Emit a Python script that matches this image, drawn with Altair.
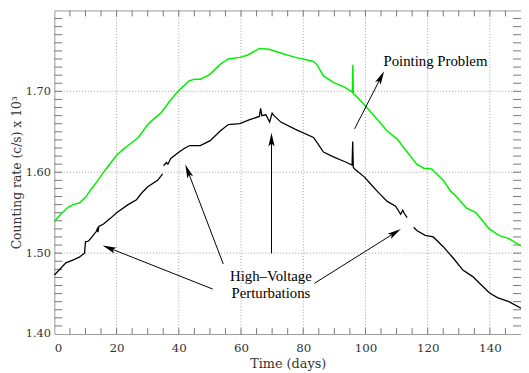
import math
import altair as alt
import pandas as pd

# ---------------- data ----------------
green_day = [0, 2, 4.5, 6, 8, 10, 12, 14, 16, 18.4, 20, 22, 24, 27, 30, 32, 34.2, 37.3, 40, 42,
             43.3, 45, 47, 50, 53.2, 55.9, 59.6, 62.2, 65.9, 69, 72.2, 77.5, 83.3, 84.4, 86.5,
             89.7, 93.4, 95.8, 95.95, 96.1, 96.8, 99.7, 103.9, 107, 110.2, 113.4, 116.5, 118.7,
             121.3, 125, 127.5, 129.2, 132.4, 135.5, 139.8, 142.9, 146.1, 150]
green_val = [1.539, 1.548, 1.557, 1.560, 1.562, 1.569, 1.580, 1.590, 1.601, 1.613, 1.621, 1.628,
             1.634, 1.643, 1.659, 1.666, 1.673, 1.689, 1.701, 1.708, 1.713, 1.715, 1.715, 1.721,
             1.733, 1.740, 1.742, 1.745, 1.753, 1.752, 1.748, 1.742, 1.737, 1.733, 1.719, 1.711,
             1.705, 1.699, 1.733, 1.697, 1.695, 1.683, 1.665, 1.651, 1.641, 1.625, 1.610, 1.605,
             1.604, 1.590, 1.576, 1.570, 1.556, 1.550, 1.530, 1.522, 1.518, 1.509]

black_day = [0, 2, 3.7, 6.3, 8, 9.7, 10.0, 11, 12.1, 13.5, 13.8, 14.0, 14.3, 15.8, 18, 20, 23.7,
             26.4, 28, 30, 33.2, 34.8,
             35.1, 36.0, 36.5, 37.4, 40.1, 42, 43.5, 46.9, 50.1, 53.3, 55.9, 59.6, 62.8, 65.9,
             66.3, 66.7, 68, 69.2, 70.0, 70.6, 72.8, 77.5, 83.3, 84.4, 86.5, 89.7, 93.4, 95.7,
             95.9, 96.1, 96.8, 99.7, 101.3, 103.9, 107, 109.7, 111.3, 112.0, 112.5, 113.4,
             115.5, 116.5, 119.2, 121.8, 125, 128.2, 131.3, 134.5, 136.6, 139.8, 142.4, 146.1, 150]
black_val = [1.473, 1.481, 1.488, 1.492, 1.495, 1.500, 1.514, 1.515, 1.520, 1.527, 1.530, 1.526,
             1.533, 1.536, 1.543, 1.550, 1.560, 1.566, 1.574, 1.582, 1.590, 1.598,
             1.608, 1.612, 1.610, 1.617, 1.625, 1.630, 1.633, 1.633, 1.639, 1.651, 1.659, 1.660,
             1.665, 1.669, 1.679, 1.670, 1.671, 1.662, 1.673, 1.670, 1.662, 1.653, 1.643, 1.637,
             1.625, 1.619, 1.613, 1.609, 1.638, 1.606, 1.603, 1.594, 1.587, 1.576, 1.564, 1.558,
             1.548, 1.553, 1.549, 1.544,
             1.532, 1.528, 1.522, 1.520, 1.508, 1.494, 1.479, 1.471, 1.463, 1.451, 1.445, 1.440,
             1.432]
black_seg = [1] * 22 + [2] * 40 + [3] * 13

x_labels = [0, 20, 40, 60, 80, 100, 120, 140]
y_labels = [1.40, 1.50, 1.60, 1.70]
grid_x = [20, 40, 60, 80, 100, 120, 140]
grid_y = [1.50, 1.60, 1.70]
minor_x = [5 * i for i in range(1, 30)]
minor_y = [round(1.40 + 0.01 * i, 2) for i in range(1, 40)]

# arrows: tail -> tip
arrow_x0 = [50.9, 54.3, 69.8, 83.6, 96.5]
arrow_y0 = [1.4556, 1.4865, 1.4996, 1.4627, 1.6536]
arrow_x1 = [15.5, 42.1, 69.8, 111.4, 106.0]
arrow_y1 = [1.5095, 1.6095, 1.6488, 1.5298, 1.725]

note_text = ["High\u2013Voltage", "Perturbations", "Pointing Problem"]
note_x = [69.6, 69.6, 122.5]
note_y = [1.4714, 1.4512, 1.7373]

# ---------------- layout ----------------
W, H = 473, 328
XD, YD = [0, 150], [1.40, 1.80]
sx = W / (XD[1] - XD[0])
sy = H / (YD[1] - YD[0])
HEAD = 7  # half length of arrow head in px

FONT = "DejaVu Serif"
X_TITLE = "Time (days)"
Y_TITLE = "Counting rate (c/s) x 10\u00b3"

xs = alt.Scale(domain=XD, nice=False, zero=False)
ys = alt.Scale(domain=YD, nice=False, zero=False)
x_axis = alt.Axis(values=x_labels, format="d", grid=False, ticks=False, domain=False,
                  labelFont=FONT, labelFontSize=12, labelColor="#333", labelPadding=9,
                  titleFont=FONT, titleFontSize=13, titleFontWeight="normal",
                  titleColor="#333", titleY=30, titleBaseline="middle")
y_axis = alt.Axis(values=y_labels, format=".2f", grid=False, ticks=False, domain=False,
                  labelFont=FONT, labelFontSize=11.5, labelColor="#333", labelPadding=4,
                  titleFont=FONT, titleFontSize=12.5, titleFontWeight="normal",
                  titleColor="#333", titleX=-31, titleY=H / 2)


def X(field):
    return alt.X(field, scale=xs, axis=x_axis, title=X_TITLE)


def Y(field):
    return alt.Y(field, scale=ys, axis=y_axis, title=Y_TITLE)


green = pd.DataFrame({"day": green_day, "val": green_val})
black = pd.DataFrame({"day": black_day, "val": black_val, "seg": black_seg})

rows = []
for x0, y0, x1, y1 in zip(arrow_x0, arrow_y0, arrow_x1, arrow_y1):
    dxp = (x1 - x0) * sx
    dyp = -(y1 - y0) * sy
    L = math.hypot(dxp, dyp)
    ux, uy = dxp / L, dyp / L
    rows.append({
        "x0": x0, "y0": y0, "x1": x1, "y1": y1,
        "hx": x1 - HEAD * ux / sx,
        "hy": y1 + HEAD * uy / sy,
        "ang": math.degrees(math.atan2(ux, -uy)) % 360,
    })
arrows = pd.DataFrame(rows)
notes = pd.DataFrame({"t": note_text, "x": note_x, "y": note_y})

grid_v = alt.Chart(pd.DataFrame({"x": grid_x})).mark_rule(
    color="#888", strokeDash=[1, 2], strokeWidth=0.8
).encode(x=X("x:Q"))
grid_h = alt.Chart(pd.DataFrame({"y": grid_y})).mark_rule(
    color="#888", strokeDash=[1, 2], strokeWidth=0.8
).encode(y=Y("y:Q"))

tick_col = "#777"
mx = pd.DataFrame({"x": minor_x})
my = pd.DataFrame({"y": minor_y})
tick_b = alt.Chart(mx).mark_rule(color=tick_col).encode(
    x=X("x:Q"), y=alt.value(H), y2=alt.value(H - 6))
tick_t = alt.Chart(mx).mark_rule(color=tick_col).encode(
    x=X("x:Q"), y=alt.value(0), y2=alt.value(6))
tick_l = alt.Chart(my).mark_rule(color=tick_col).encode(
    y=Y("y:Q"), x=alt.value(0), x2=alt.value(8))
tick_r = alt.Chart(my).mark_rule(color=tick_col).encode(
    y=Y("y:Q"), x=alt.value(W), x2=alt.value(W - 8))

green_line = alt.Chart(green).mark_line(color="#00f000", strokeWidth=1.5).encode(
    x=X("day:Q"), y=Y("val:Q"), order="day:Q")
black_line = alt.Chart(black).mark_line(color="black", strokeWidth=1.3).encode(
    x=X("day:Q"), y=Y("val:Q"), detail="seg:N", order="day:Q")

shafts = alt.Chart(arrows).mark_rule(color="black", strokeWidth=1).encode(
    x=X("x0:Q"), y=Y("y0:Q"), x2="hx:Q", y2="hy:Q")
heads = alt.Chart(arrows).mark_point(
    shape="M0,-1L0.45,1L0,0.55L-0.45,1Z", filled=True, color="black", opacity=1, size=196
).encode(x=X("hx:Q"), y=Y("hy:Q"), angle=alt.Angle("ang:Q", scale=None))

texts = alt.Chart(notes).mark_text(
    font="Liberation Serif", fontSize=15, color="black", align="center", baseline="middle"
).encode(x=X("x:Q"), y=Y("y:Q"), text="t:N")

chart = alt.layer(
    grid_v, grid_h, tick_b, tick_t, tick_l, tick_r, green_line, black_line, shafts, heads, texts
).properties(
    width=W, height=H,
    autosize=alt.AutoSizeParams(type="none"),
    padding={"left": 47, "top": 0, "right": 0, "bottom": 37},
    background="white",
).configure_view(stroke="#999", strokeWidth=1)

chart.save("out.html", embed_options={"renderer": "svg", "actions": False})
